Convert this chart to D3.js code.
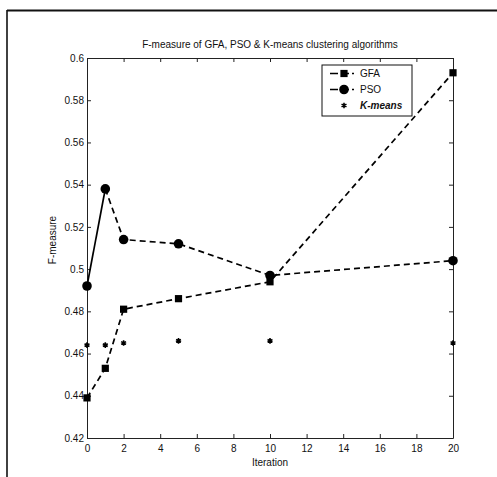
<!DOCTYPE html>
<html>
<head>
<meta charset="utf-8">
<script src="https://cdn.jsdelivr.net/npm/d3@7"></script>
<style>
  body { margin: 0; background: #fff; }
  svg { display: block; font-family: "Liberation Sans", Arial, sans-serif; }
</style>
</head>
<body>
<svg id="chart" width="497" height="477"></svg>
<script>
// data
const iterations = [0, 1, 2, 5, 10, 20];
const gfa = [0.439, 0.453, 0.481, 0.486, 0.494, 0.593];
const pso = [0.492, 0.538, 0.514, 0.512, 0.497, 0.504];
const kmeans = [0.464, 0.464, 0.465, 0.466, 0.466, 0.465];
const xTicks = [0, 2, 4, 6, 8, 10, 12, 14, 16, 18, 20];
const yTicks = [0.42, 0.44, 0.46, 0.48, 0.5, 0.52, 0.54, 0.56, 0.58, 0.6];
const seriesNames = ["GFA", "PSO", "K-means"];

const svg = d3.select("#chart");

// scanned page frame
svg.append("line").attr("x1", 7).attr("x2", 497).attr("y1", 10.5).attr("y2", 10.5)
  .attr("stroke", "#111").attr("stroke-width", 1.8);
svg.append("line").attr("x1", 7).attr("x2", 7).attr("y1", 10).attr("y2", 477)
  .attr("stroke", "#111").attr("stroke-width", 1.6);

const margin = { top: 58, right: 44, bottom: 39, left: 87 };
const width = 497 - margin.left - margin.right;
const height = 477 - margin.top - margin.bottom;

const x = d3.scaleLinear().domain([0, 20]).range([0, width]);
const y = d3.scaleLinear().domain([0.42, 0.6]).range([height, 0]);

const g = svg.append("g").attr("transform", `translate(${margin.left},${margin.top})`);

// axes (MATLAB style, ticks inward)
const fmt = (d) => (d === 0.5 ? "0.5" : d === 0.6 ? "0.6" : d3.format(".2f")(d));
const xAxis = g.append("g").attr("transform", `translate(0,${height})`)
  .call(d3.axisBottom(x).tickValues(xTicks).tickSizeInner(-4).tickSizeOuter(0).tickPadding(7));
const yAxis = g.append("g")
  .call(d3.axisLeft(y).tickValues(yTicks).tickFormat(fmt).tickSizeInner(-4).tickSizeOuter(0).tickPadding(3));
g.append("g")
  .call(d3.axisTop(x).tickValues(xTicks).tickSizeInner(-4).tickSizeOuter(0).tickFormat(""));
g.append("g").attr("transform", `translate(${width},0)`)
  .call(d3.axisRight(y).tickValues(yTicks).tickSizeInner(-4).tickSizeOuter(0).tickFormat(""));

g.selectAll(".domain").attr("stroke", "#222").attr("stroke-width", 1);
g.selectAll(".tick line").attr("stroke", "#222");
g.selectAll(".tick text").attr("font-size", 10).attr("fill", "#111")
  .attr("font-family", "Liberation Sans, Arial, sans-serif");

// labels
svg.append("text").attr("x", margin.left + width / 2).attr("y", 48)
  .attr("text-anchor", "middle").attr("font-size", 10).attr("fill", "#111")
  .text("F-measure of GFA, PSO & K-means clustering algorithms");
svg.append("text").attr("x", margin.left + width / 2).attr("y", 466)
  .attr("text-anchor", "middle").attr("font-size", 10).attr("fill", "#111")
  .text("Iteration");
svg.append("text").attr("transform", `translate(56,${margin.top + height / 2 - 8}) rotate(-90)`)
  .attr("text-anchor", "middle").attr("font-size", 10).attr("fill", "#111")
  .text("F-measure");

const dash = "6,4";
const line = d3.line().x((d) => x(d[0])).y((d) => y(d[1]));
const gfaPts = iterations.map((it, i) => [it, gfa[i]]);
const psoPts = iterations.map((it, i) => [it, pso[i]]);
const kmPts = iterations.map((it, i) => [it, kmeans[i]]);

g.append("path").datum(gfaPts).attr("d", line)
  .attr("fill", "none").attr("stroke", "#000").attr("stroke-width", 1.7).attr("stroke-dasharray", dash);
g.append("path").datum(psoPts.slice(1)).attr("d", line)
  .attr("fill", "none").attr("stroke", "#000").attr("stroke-width", 1.7).attr("stroke-dasharray", dash);
// first PSO segment shows as solid in the scan
g.append("path").datum(psoPts.slice(0, 2)).attr("d", line)
  .attr("fill", "none").attr("stroke", "#000").attr("stroke-width", 1.7);

const square = d3.symbol().type(d3.symbolSquare).size(52);
const circle = d3.symbol().type(d3.symbolCircle).size(72);
const star = d3.symbol().type(d3.symbolAsterisk).size(22);

g.selectAll(".gfa").data(gfaPts).join("path").attr("class", "gfa")
  .attr("transform", (d) => `translate(${x(d[0])},${y(d[1])})`)
  .attr("d", square).attr("fill", "#000");
g.selectAll(".pso").data(psoPts).join("path").attr("class", "pso")
  .attr("transform", (d) => `translate(${x(d[0])},${y(d[1])})`)
  .attr("d", circle).attr("fill", "#000");
g.selectAll(".km").data(kmPts).join("path").attr("class", "km")
  .attr("transform", (d) => `translate(${x(d[0])},${y(d[1])})`)
  .attr("d", star).attr("fill", "none").attr("stroke", "#000").attr("stroke-width", 1.6);

// legend
const lg = svg.append("g").attr("transform", "translate(322,65)");
lg.append("rect").attr("width", 90).attr("height", 51)
  .attr("fill", "#fff").attr("stroke", "#111").attr("stroke-width", 1);
const markers = [square, circle, star];
seriesNames.forEach((name, i) => {
  const ry = 8.5 + i * 16;
  const row = lg.append("g").attr("transform", `translate(0,${ry})`);
  if (i < 2) {
    row.append("line").attr("x1", 8).attr("x2", 32).attr("y1", 0).attr("y2", 0)
      .attr("stroke", "#000").attr("stroke-width", 1.7).attr("stroke-dasharray", "8,3");
  }
  row.append("path").attr("transform", "translate(22,0)").attr("d", markers[i])
    .attr("fill", i < 2 ? "#000" : "none").attr("stroke", "#000").attr("stroke-width", i < 2 ? 0 : 1.6);
  row.append("text").attr("x", 38).attr("y", 3.6).attr("font-size", 10).attr("fill", "#111")
    .attr("font-style", i === 2 ? "italic" : "normal").attr("font-weight", i === 2 ? "bold" : "normal")
    .text(name);
});
</script>
</body>
</html>
